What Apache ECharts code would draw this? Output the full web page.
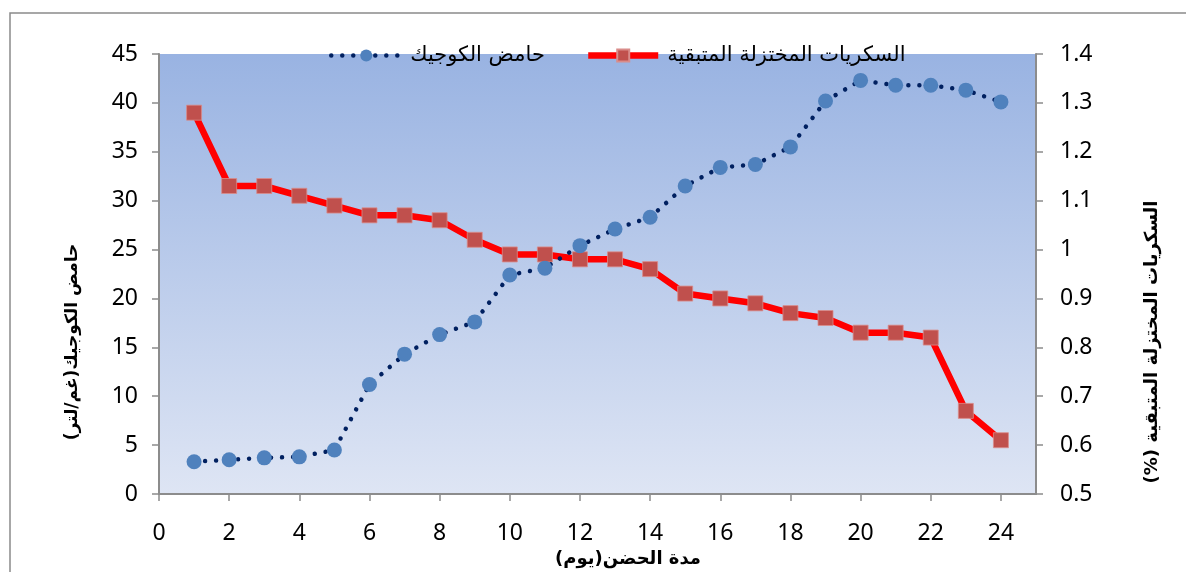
<!DOCTYPE html>
<html>
<head>
<meta charset="utf-8">
<script src="https://cdn.jsdelivr.net/npm/echarts@6/dist/echarts.min.js"></script>
<style>
  html, body { margin: 0; padding: 0; background: #fff; }
  #chart { width: 1186px; height: 572px; }
</style>
</head>
<body>
<div id="chart"></div>
<script>
// Incubation period (days)
const days = [1, 2, 3, 4, 5, 6, 7, 8, 9, 10, 11, 12, 13, 14, 15, 16, 17, 18, 19, 20, 21, 22, 23, 24];
// Kojic acid (g/L)
const kojicAcid = [3.3, 3.5, 3.7, 3.8, 4.5, 11.2, 14.3, 16.3, 17.6, 22.4, 23.1, 25.4, 27.1, 28.3,
                   31.5, 33.4, 33.7, 35.5, 40.2, 42.3, 41.8, 41.8, 41.3, 40.1];
// Remaining reducing sugars (%)
const reducingSugars = [1.28, 1.13, 1.13, 1.11, 1.09, 1.07, 1.07, 1.06, 1.02, 0.99, 0.99, 0.98, 0.98, 0.96,
                        0.91, 0.90, 0.89, 0.87, 0.86, 0.83, 0.83, 0.82, 0.67, 0.61];
// x-axis tick values
const xTicks = [0, 2, 4, 6, 8, 10, 12, 14, 16, 18, 20, 22, 24];

// Arabic strings are wrapped in right-to-left marks so the canvas lays them out RTL
const RLM = '\u200F';
const rtl = s => RLM + s + RLM;
const seriesNames = [rtl('حامض الكوجيك'), rtl('السكريات المختزلة المتبقية')];
const xTitle = rtl('مدة الحضن(يوم)');
const yLeftTitle = rtl('حامض الكوجيك(غم/لتر)');
const yRightTitle = rtl('السكريات المختزلة المتبقية (%)');

const numFont = '"Noto Sans", "Open Sans", sans-serif';
const arFont = '"DejaVu Sans", "Noto Sans", sans-serif';
const axisGray = '#8c8c8c';

const acidLine = { color: '#002060', width: 4.5, type: [0.01, 11], cap: 'round' };
const sugarLine = { color: '#ff0000', width: 6.5 };

const chart = echarts.init(document.getElementById('chart'), null, { renderer: 'canvas' });

const axisCommon = {
  axisLine: { show: true, lineStyle: { color: axisGray, width: 2 } },
  axisTick: { show: true, length: 7, lineStyle: { color: axisGray, width: 1.5 } },
  splitLine: { show: false },
  axisLabel: { color: '#000', fontSize: 23, fontFamily: numFont }
};

chart.setOption({
  backgroundColor: '#fff',
  animation: false,
  grid: {
    left: 159, right: 150, top: 54, bottom: 78,
    show: true, borderWidth: 0,
    backgroundColor: new echarts.graphic.LinearGradient(0, 0, 0, 1, [
      { offset: 0, color: '#99b3e2' },
      { offset: 1, color: '#dee5f4' }
    ])
  },
  legend: {
    left: 324, top: 40,
    itemWidth: 70, itemHeight: 15, itemGap: 40,
    textStyle: { color: '#000', fontSize: 21, fontFamily: arFont, padding: [0, 0, 0, 4] },
    data: [
      { name: seriesNames[0], lineStyle: acidLine },
      { name: seriesNames[1], lineStyle: sugarLine }
    ]
  },
  xAxis: Object.assign({}, axisCommon, {
    type: 'value', min: 0, max: 25, interval: 2,
    axisLabel: Object.assign({}, axisCommon.axisLabel, { margin: 28, customValues: xTicks }),
    axisTick: Object.assign({}, axisCommon.axisTick, { customValues: xTicks })
  }),
  yAxis: [
    Object.assign({}, axisCommon, {
      type: 'value', min: 0, max: 45, interval: 5, position: 'left',
      axisLabel: Object.assign({}, axisCommon.axisLabel, { margin: 21 })
    }),
    Object.assign({}, axisCommon, {
      type: 'value', min: 0.5, max: 1.4, interval: 0.1, position: 'right',
      axisLabel: Object.assign({}, axisCommon.axisLabel, { margin: 24 })
    })
  ],
  series: [
    {
      name: seriesNames[0], type: 'line', yAxisIndex: 0,
      data: days.map((d, i) => [d, kojicAcid[i]]),
      symbol: 'circle', symbolSize: 15,
      itemStyle: { color: '#4f81bd' },
      lineStyle: acidLine,
      z: 3
    },
    {
      name: seriesNames[1], type: 'line', yAxisIndex: 1,
      data: days.map((d, i) => [d, reducingSugars[i]]),
      symbol: 'rect', symbolSize: 15,
      itemStyle: { color: '#c0504d', borderColor: '#d98c8a', borderWidth: 0.8 },
      lineStyle: sugarLine,
      z: 2
    }
  ],
  graphic: [
    {
      type: 'rect', z: -10, silent: true,
      shape: { x: 10, y: 13, width: 1200, height: 600 },
      style: { fill: 'none', stroke: '#8a8a8a', lineWidth: 1.5 }
    },
    {
      type: 'text', x: 628, y: 559, silent: true,
      style: { text: xTitle, font: 'bold 18px ' + arFont, fill: '#000', align: 'center', verticalAlign: 'middle' }
    },
    {
      type: 'text', x: 73, y: 342, rotation: Math.PI / 2, silent: true,
      style: { text: yLeftTitle, font: 'bold 17px ' + arFont, fill: '#000', align: 'center', verticalAlign: 'middle' }
    },
    {
      type: 'text', x: 1152, y: 342, rotation: Math.PI / 2, silent: true,
      style: { text: yRightTitle, font: 'bold 18px ' + arFont, fill: '#000', align: 'center', verticalAlign: 'middle' }
    }
  ]
});
</script>
</body>
</html>
